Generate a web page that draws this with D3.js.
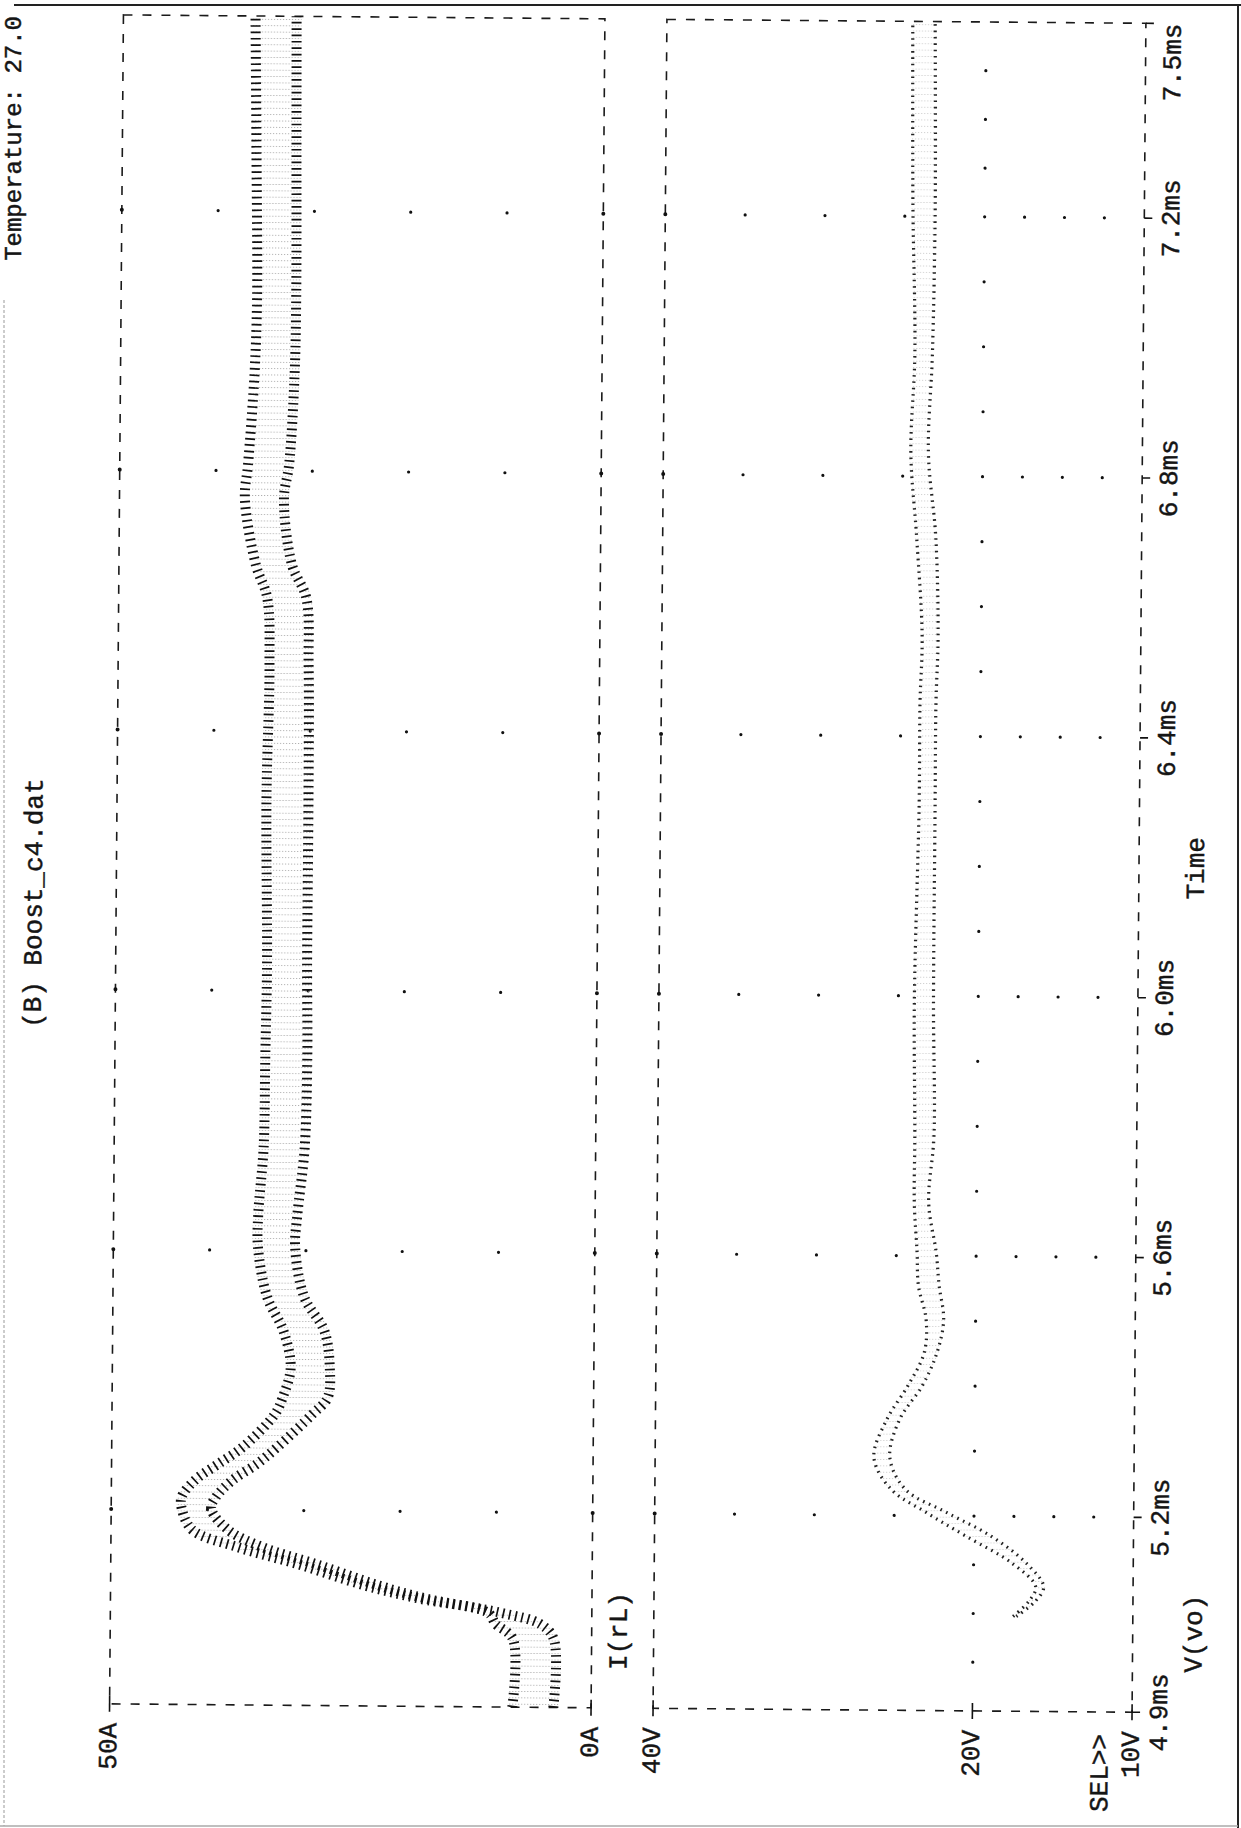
<!DOCTYPE html>
<html>
<head>
<meta charset="utf-8">
<script src="https://cdn.jsdelivr.net/npm/d3@7"></script>
<style>
  body { margin: 0; background: #fff; }
  svg { display: block; }
  text { font-family: "Liberation Mono", "DejaVu Sans Mono", monospace; fill: #151515; stroke: #151515; stroke-width: 0.45; }
</style>
</head>
<body>
<div id="chart"></div>
<script>
// time axis (ms), runs bottom -> top on the printed page
const timeTicks = [4.9, 5.2, 5.6, 6.0, 6.4, 6.8, 7.2, 7.5];
const timeLabels = ["4.9ms", "5.2ms", "5.6ms", "6.0ms", "6.4ms", "6.8ms", "7.2ms", "7.5ms"];

// I(rL) axis
const currentTicks = [50, 0];
const currentLabels = ["50A", "0A"];
const currentGrid = [40, 30, 20, 10];

// V(vo) axis
const voltTicks = [40, 20, 10];
const voltLabels = ["40V", "20V", "10V"];
const voltGrid = [35, 30, 25, 20, 17.5, 15, 12.5];

// I(rL): upper / lower edge of the switching ripple band (A)
const iTime = [4.9, 5.005, 5.028, 5.045, 5.066, 5.085, 5.117, 5.143, 5.169, 5.202, 5.22, 5.246, 5.271, 5.297,
               5.348, 5.374, 5.42, 5.477, 5.528, 5.605, 5.655, 5.758, 5.9, 6.04, 6.297, 6.502, 6.605, 6.655,
               6.758, 6.809, 6.95, 7.066, 7.3, 7.5];
const iMax = [8.7, 8.7, 10.5, 11.3, 18.5, 24.0, 31.0, 37.4, 42.1, 43.2, 43.2, 41.8, 39.4, 36.9,
              33.6, 32.8, 32.0, 32.8, 34.5, 35.5, 35.5, 35.0, 34.9, 34.8, 35.0, 34.8, 35.1, 36.3,
              37.5, 37.2, 36.6, 36.4, 36.6, 36.8];
const iMin = [3.4, 3.4, 4.8, 8.9, 16.7, 21.5, 28.0, 33.7, 37.3, 39.1, 38.6, 36.9, 34.4, 32.3,
              28.7, 27.1, 26.9, 27.5, 29.6, 30.6, 30.4, 29.7, 29.5, 29.6, 29.6, 29.7, 30.0, 31.5,
              32.4, 31.9, 31.4, 31.3, 31.4, 31.5];

// V(vo): upper / lower edge of the ripple band (V)
const vTime = [5.046, 5.07, 5.092, 5.128, 5.169, 5.205, 5.24, 5.289, 5.348, 5.4, 5.451, 5.502, 5.554,
               5.605, 5.682, 5.785, 5.989, 6.297, 6.45, 6.554, 6.708, 6.835, 6.989, 7.22, 7.5];
const vMax = [17.6, 16.6, 16.2, 17.7, 20.6, 23.1, 25.3, 26.4, 25.6, 24.3, 23.3, 23.2, 23.7,
              23.8, 24.0, 24.0, 24.1, 23.9, 23.9, 23.8, 24.2, 24.6, 24.4, 24.6, 24.7];
const vMin = [17.2, 16.0, 15.5, 16.6, 18.8, 21.6, 24.2, 25.2, 24.6, 23.2, 22.3, 21.9, 22.2,
              22.4, 22.9, 22.6, 22.7, 22.7, 22.7, 22.6, 22.8, 23.3, 23.1, 23.0, 23.1];

let width = 1241, height = 1828;

let svg = d3.select("#chart")
    .append("svg")
    .attr("width", width)
    .attr("height", height);

// ripple texture
let defs = svg.append("defs");
defs.append("pattern")
    .attr("id", "ripple")
    .attr("patternUnits", "userSpaceOnUse")
    .attr("width", 6).attr("height", 6.35)
    .append("line")
    .attr("x1", 0).attr("x2", 6).attr("y1", 3.2).attr("y2", 3.2)
    .attr("stroke", "#9a9a9a").attr("stroke-width", 0.8)
    .attr("stroke-dasharray", "1.2,1.8");

// scanned page border
svg.append("line").attr("x1", 14).attr("x2", width).attr("y1", 5).attr("y2", 5)
    .attr("stroke", "#222").attr("stroke-width", 2);
svg.append("line").attr("x1", 1238).attr("x2", 1238).attr("y1", 5).attr("y2", height)
    .attr("stroke", "#222").attr("stroke-width", 2);
svg.append("line").attr("x1", 4).attr("x2", 4).attr("y1", 300).attr("y2", 1826)
    .attr("stroke", "#999").attr("stroke-width", 1).attr("stroke-dasharray", "3,2");
svg.append("line").attr("x1", 0).attr("x2", 1238).attr("y1", 1826).attr("y2", 1826)
    .attr("stroke", "#aaa").attr("stroke-width", 1.5);

// the printout is scanned slightly tilted
let page = svg.append("g").attr("transform", "rotate(0.47,620,863)");

let y = d3.scaleLinear().domain([4.9, 7.5]).range([1708, 19]);
let xI = d3.scaleLinear().domain([50, 0]).range([116.5, 598]);
let xV = d3.scaleLinear().domain([40, 10]).range([660, 1139]);

let frameStyle = function (sel) {
    sel.attr("fill", "none").attr("stroke", "#1a1a1a")
        .attr("stroke-width", 1.6).attr("stroke-dasharray", "9,10");
};

// frames
page.append("rect")
    .attr("x", xI(50)).attr("y", y(7.5))
    .attr("width", xI(0) - xI(50)).attr("height", y(4.9) - y(7.5))
    .call(frameStyle);
page.append("rect")
    .attr("x", xV(40)).attr("y", y(7.5))
    .attr("width", xV(10) - xV(40)).attr("height", y(4.9) - y(7.5))
    .call(frameStyle);

let innerTicks = timeTicks.slice(1, -1);

// grid dots, top plot
innerTicks.forEach(function (t) {
    page.selectAll(null)
        .data(currentGrid.concat([50, 0]))
        .enter()
        .append("circle")
        .attr("cx", function (d) { return xI(d); })
        .attr("cy", y(t))
        .attr("r", function (d) { return (d === 50 || d === 0) ? 2 : 1.6; })
        .attr("fill", "#111");
});

// grid dots, bottom plot
innerTicks.forEach(function (t) {
    page.selectAll(null)
        .data(voltGrid.concat([40]))
        .enter()
        .append("circle")
        .attr("cx", function (d) { return xV(d); })
        .attr("cy", y(t))
        .attr("r", function (d) { return d === 40 ? 2 : 1.6; })
        .attr("fill", "#111");
});

// minor time dots along the 20V line (each major interval split in 4)
let minorTimes = [];
d3.pairs(timeTicks).forEach(function (p) {
    for (let k = 1; k < 4; k++) minorTimes.push(p[0] + (p[1] - p[0]) * k / 4);
});
page.selectAll(null)
    .data(minorTimes)
    .enter()
    .append("circle")
    .attr("cx", xV(20))
    .attr("cy", function (d) { return y(d); })
    .attr("r", 1.6)
    .attr("fill", "#111");

// ticks on the bottom line
page.selectAll(null)
    .data(currentTicks.map(xI).concat(voltTicks.map(xV)))
    .enter()
    .append("line")
    .attr("x1", function (d) { return d; })
    .attr("x2", function (d) { return d; })
    .attr("y1", y(4.9) - 8)
    .attr("y2", y(4.9) + 8)
    .attr("stroke", "#111").attr("stroke-width", 1.6);

// ticks on the time axis (right side)
page.selectAll(null)
    .data(timeTicks)
    .enter()
    .append("line")
    .attr("x1", xV(10))
    .attr("x2", xV(10) + 8)
    .attr("y1", function (d) { return y(d); })
    .attr("y2", function (d) { return y(d); })
    .attr("stroke", "#111").attr("stroke-width", 1.6);

// I(rL) band
let idx = d3.range(iTime.length);
page.append("path")
    .datum(idx)
    .attr("fill", "url(#ripple)")
    .attr("d", d3.area()
        .y(function (i) { return y(iTime[i]); })
        .x0(function (i) { return xI(iMax[i]); })
        .x1(function (i) { return xI(iMin[i]); })
        .curve(d3.curveCatmullRom.alpha(0.5)));

[[iMax, 5], [iMin, -5]].forEach(function (e) {
    page.append("path")
        .datum(idx)
        .attr("fill", "none")
        .attr("stroke", "#111")
        .attr("stroke-width", 10)
        .attr("stroke-dasharray", "1.7,4.65")
        .attr("d", d3.line()
            .y(function (i) { return y(iTime[i]); })
            .x(function (i) { return xI(e[0][i]) + e[1]; })
            .curve(d3.curveCatmullRom.alpha(0.5)));
});

// V(vo) band
let vdx = d3.range(vTime.length);
page.append("path")
    .datum(vdx)
    .attr("fill", "url(#ripple)")
    .attr("opacity", 0.6)
    .attr("d", d3.area()
        .y(function (i) { return y(vTime[i]); })
        .x0(function (i) { return xV(vMax[i]); })
        .x1(function (i) { return xV(vMin[i]); })
        .curve(d3.curveCatmullRom.alpha(0.5)));

[[vMax, 1.6], [vMin, -1.6]].forEach(function (e) {
    page.append("path")
        .datum(vdx)
        .attr("fill", "none")
        .attr("stroke", "#222")
        .attr("stroke-width", 3.2)
        .attr("stroke-dasharray", "1.6,4.75")
        .attr("d", d3.line()
            .y(function (i) { return y(vTime[i]); })
            .x(function (i) { return xV(e[0][i]) + e[1]; })
            .curve(d3.curveCatmullRom.alpha(0.5)));
});

// rotated text helper
let label = function (parent, x, yy, str, anchor, size) {
    parent.append("text")
        .attr("transform", "translate(" + x + "," + yy + ") rotate(-90)")
        .attr("text-anchor", anchor)
        .attr("dominant-baseline", "central")
        .attr("font-size", (size || 26) + "px")
        .text(str);
};

// time tick labels
timeTicks.forEach(function (t, i) {
    if (i === timeTicks.length - 1) label(page, 1167, y(t), timeLabels[i], "end");
    else label(page, 1167, y(t), timeLabels[i], "middle");
});
label(page, 1197, (y(4.9) + y(7.5)) / 2, "Time", "middle");

// value axis labels
currentTicks.forEach(function (v, i) { label(page, xI(v), 1727, currentLabels[i], "end"); });
voltTicks.forEach(function (v, i) { label(page, xV(v), 1727, voltLabels[i], "end"); });
label(page, xV(10) - 31, 1730, "SEL>>", "end");

// trace names
label(page, 626, 1670, "I(rL)", "start");
label(page, 1201, 1668, "V(vo)", "start");

// title and page header (header sits at the very edge of the scan)
label(page, 35, 908, "(B) Boost_c4.dat", "middle");
label(svg, 14, 16, "Temperature: 27.0", "end", 24);
</script>
</body>
</html>
